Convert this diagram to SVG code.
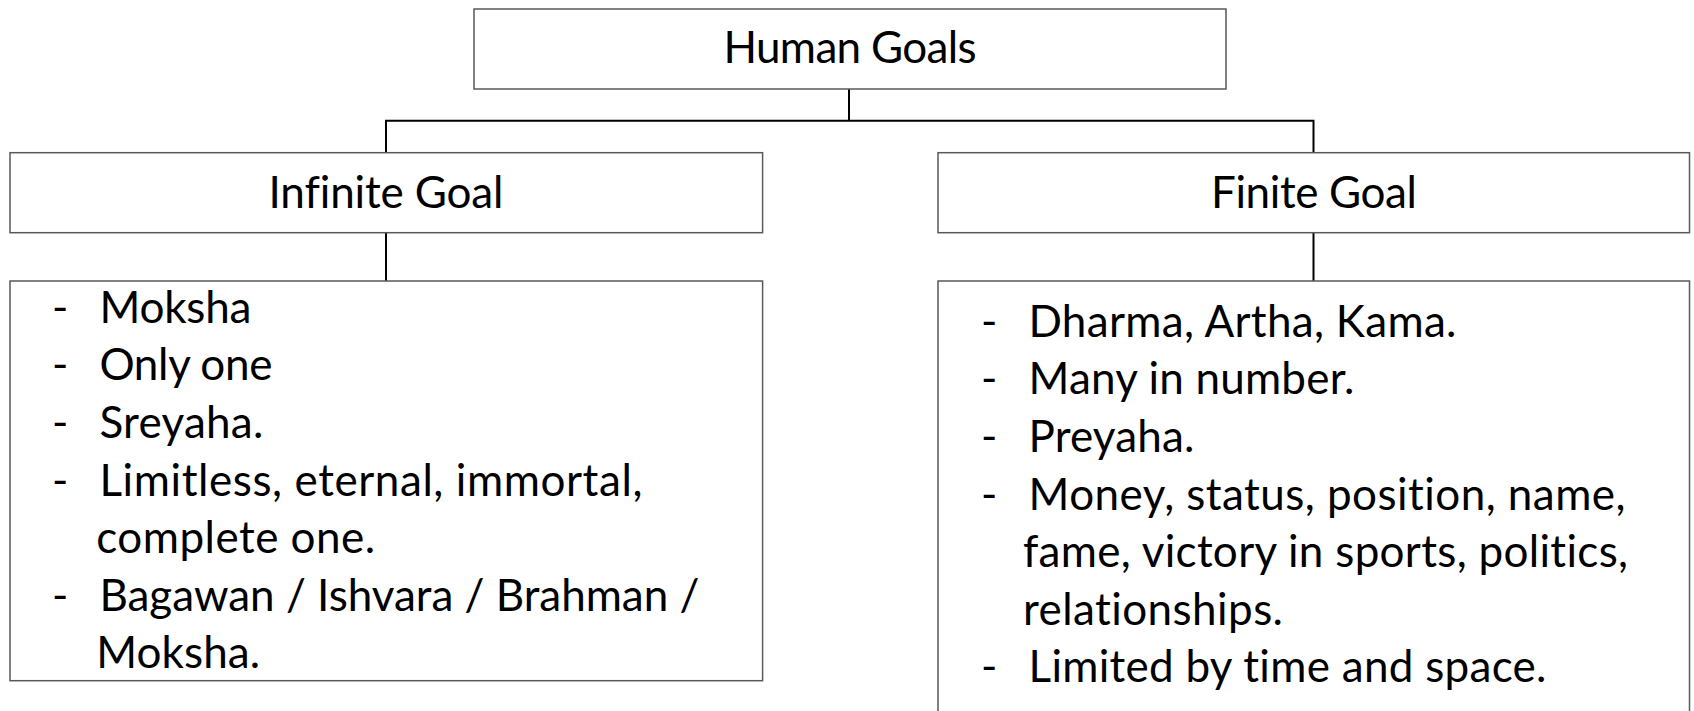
<svg xmlns="http://www.w3.org/2000/svg" width="1694" height="711" viewBox="0 0 1694 711">
<style>
.box{fill:#fff;stroke:#595959;stroke-width:1.5}
.conn{fill:none;stroke:#000;stroke-width:2}
text{font-family:Lato,"Liberation Sans",sans-serif;font-size:44px;fill:#000;font-variant-ligatures:none;font-feature-settings:"liga" 0,"clig" 0,"calt" 0,"dlig" 0,"hlig" 0}
.c{text-anchor:middle}
</style>
<rect width="1694" height="711" fill="#fff"/>
<g id="connectors">
<path class="conn" d="M849 88.7V120.7H386V152.7M849 120.7H1313.5V152.7"/>
<path class="conn" d="M386 232.7V281"/>
<path class="conn" d="M1313.5 232.7V281"/>
</g>
<g id="human-goals">
<rect class="box" x="474" y="9" width="752" height="80"/>
<text class="c" x="850" y="63.3" textLength="253">Human Goals</text>
</g>
<g id="infinite-goal">
<rect class="box" x="10" y="152.7" width="752.6" height="80"/>
<text class="c" x="386" y="208.3" textLength="235">Infinite Goal</text>
</g>
<g id="finite-goal">
<rect class="box" x="938" y="152.7" width="751.5" height="80"/>
<text class="c" x="1314" y="208.3" textLength="206">Finite Goal</text>
</g>
<g id="infinite-list">
<rect class="box" x="10" y="281" width="752.6" height="399.7"/>
<text x="52" y="322.7">-</text><text x="99.4" y="322.7" textLength="152">Moksha</text>
<text x="52" y="380.3">-</text><text x="99.4" y="380.3" textLength="173">Only one</text>
<text x="52" y="437.9">-</text><text x="99.4" y="437.9" textLength="164">Sreyaha.</text>
<text x="52" y="495.5">-</text><text x="99.4" y="495.5" textLength="543">Limitless, eternal, immortal,</text>
<text x="96.2" y="553.1" textLength="279">complete one.</text>
<text x="52" y="610.7">-</text><text x="99.4" y="610.7" textLength="600">Bagawan / Ishvara / Brahman /</text>
<text x="96.2" y="668.3" textLength="164">Moksha.</text>
</g>
<g id="finite-list">
<rect class="box" x="938" y="281" width="751.5" height="500"/>
<text x="981" y="336.7">-</text><text x="1028.5" y="336.7" textLength="428">Dharma, Artha, Kama.</text>
<text x="981" y="394.3">-</text><text x="1028.5" y="394.3" textLength="326">Many in number.</text>
<text x="981" y="451.9">-</text><text x="1028.5" y="451.9" textLength="166">Preyaha.</text>
<text x="981" y="509.5">-</text><text x="1028.5" y="509.5" textLength="597">Money, status, position, name,</text>
<text x="1023" y="567.1" textLength="605">fame, victory in sports, politics,</text>
<text x="1023" y="624.7" textLength="260">relationships.</text>
<text x="981" y="682.3">-</text><text x="1028.5" y="682.3" textLength="518">Limited by time and space.</text>
</g>
</svg>
